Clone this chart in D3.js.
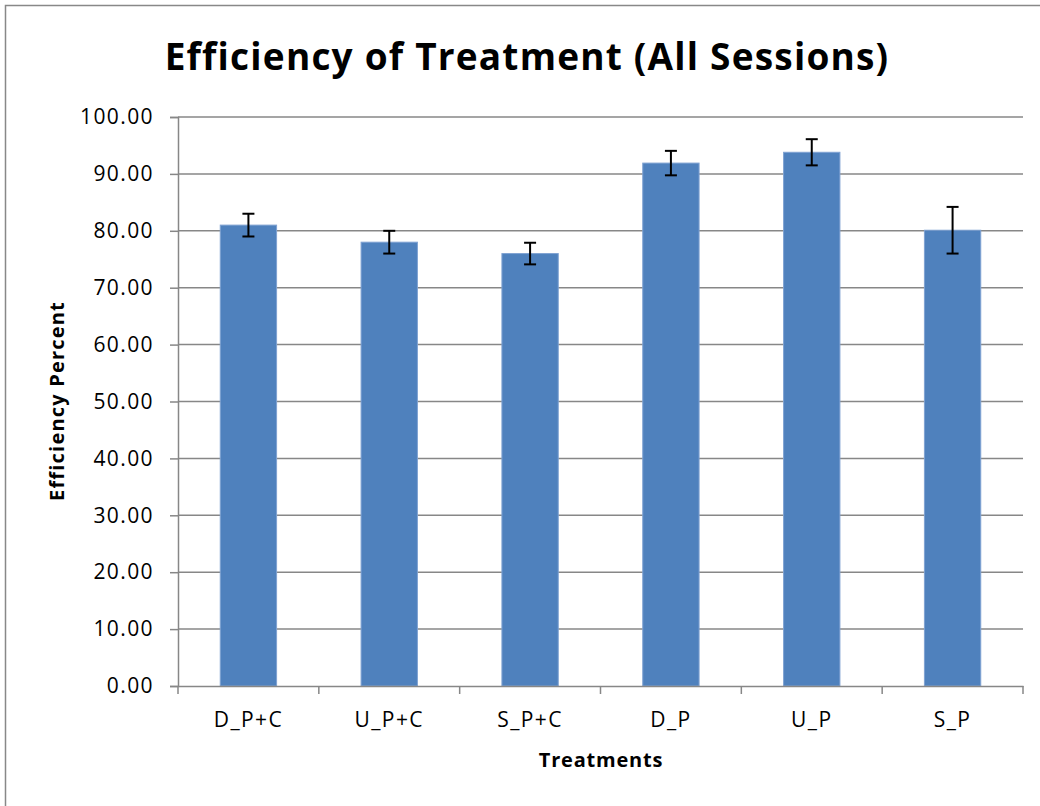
<!DOCTYPE html>
<html>
<head>
<meta charset="utf-8">
<script src="https://cdn.jsdelivr.net/npm/d3@7"></script>
<style>
  body { margin: 0; background: #fff; }
  text { font-family: "Open Sans", Lato, sans-serif; fill: #000; }
</style>
</head>
<body>
<svg id="chart"></svg>
<script>
// data
var treatments = ["D_P+C", "U_P+C", "S_P+C", "D_P", "U_P", "S_P"];
var efficiency = [81.0, 78.0, 76.0, 91.9, 93.8, 80.1];
var errors = [2.0, 2.0, 1.9, 2.15, 2.3, 4.1];
var yTicks = [0, 10, 20, 30, 40, 50, 60, 70, 80, 90, 100];

var width = 1040, height = 806;
var plot = { left: 178, right: 1023, top: 117, bottom: 686 };

var svg = d3.select("#chart")
  .attr("width", width)
  .attr("height", height);

// outer chart border
svg.append("rect")
  .attr("x", 5.5).attr("y", 5.5)
  .attr("width", width + 20).attr("height", height + 20)
  .attr("fill", "none")
  .attr("stroke", "#888")
  .attr("stroke-width", 1.5);

var x = d3.scaleBand()
  .domain(treatments)
  .range([plot.left, plot.right])
  .paddingInner(0.6)
  .paddingOuter(0.3);

var y = d3.scaleLinear()
  .domain([0, 100])
  .range([plot.bottom, plot.top]);

// gridlines
svg.append("g")
  .selectAll("line")
  .data(yTicks.slice(1))
  .enter()
  .append("line")
  .attr("x1", plot.left)
  .attr("x2", plot.right)
  .attr("y1", function (d) { return y(d); })
  .attr("y2", function (d) { return y(d); })
  .attr("stroke", "#878787")
  .attr("stroke-width", 1.5);

// y axis
var yAxis = svg.append("g")
  .attr("transform", "translate(" + plot.left + ",0)")
  .call(d3.axisLeft(y).tickValues(yTicks).tickSize(8).tickPadding(16)
    .tickFormat(d3.format(".2f")));
yAxis.selectAll("text").style("font-size", "21px").style("letter-spacing", "1.4px");

// bars
svg.append("g")
  .selectAll("rect")
  .data(efficiency)
  .enter()
  .append("rect")
  .attr("x", function (d, i) { return x(treatments[i]); })
  .attr("y", function (d) { return y(d); })
  .attr("width", x.bandwidth())
  .attr("height", function (d) { return y(0) - y(d); })
  .attr("fill", "#4F81BD")
  .attr("stroke", "#7FA2D2")
  .attr("stroke-width", 1);

// x axis with ticks at band edges
var xAxis = svg.append("g")
  .attr("transform", "translate(0," + plot.bottom + ")")
  .call(d3.axisBottom(x).tickSize(0).tickPadding(26));
xAxis.selectAll("text").style("font-size", "21px").style("letter-spacing", "1.4px");
var step = x.step();
xAxis.selectAll(".edge")
  .data(d3.range(treatments.length + 1))
  .enter()
  .append("line")
  .attr("class", "edge")
  .attr("x1", function (d) { return plot.left + d * step; })
  .attr("x2", function (d) { return plot.left + d * step; })
  .attr("y1", 0).attr("y2", 8)
  .attr("stroke", "#878787")
  .attr("stroke-width", 1.5);

[yAxis, xAxis].forEach(function (g) {
  g.select(".domain").attr("stroke", "#878787").attr("stroke-width", 1.5);
  g.selectAll(".tick line").attr("stroke", "#878787").attr("stroke-width", 1.5);
});

// error bars
var err = svg.append("g").selectAll("g")
  .data(efficiency)
  .enter()
  .append("g")
  .attr("transform", function (d, i) {
    return "translate(" + (x(treatments[i]) + x.bandwidth() / 2) + ",0)";
  });
err.append("line")
  .attr("y1", function (d, i) { return y(d + errors[i]); })
  .attr("y2", function (d, i) { return y(d - errors[i]); })
  .attr("stroke", "#000").attr("stroke-width", 2);
err.append("line")
  .attr("x1", -6).attr("x2", 6)
  .attr("y1", function (d, i) { return y(d + errors[i]); })
  .attr("y2", function (d, i) { return y(d + errors[i]); })
  .attr("stroke", "#000").attr("stroke-width", 2);
err.append("line")
  .attr("x1", -6).attr("x2", 6)
  .attr("y1", function (d, i) { return y(d - errors[i]); })
  .attr("y2", function (d, i) { return y(d - errors[i]); })
  .attr("stroke", "#000").attr("stroke-width", 2);

// titles
svg.append("text")
  .attr("x", 527).attr("y", 70)
  .attr("text-anchor", "middle")
  .style("font-size", "37px")
  .style("font-weight", "bold")
  .style("letter-spacing", "1.2px")
  .text("Efficiency of Treatment (All Sessions)");

svg.append("text")
  .attr("x", 601).attr("y", 767)
  .attr("text-anchor", "middle")
  .style("font-size", "20px")
  .style("font-weight", "bold")
  .style("letter-spacing", "0.8px")
  .text("Treatments");

svg.append("text")
  .attr("transform", "translate(64,401) rotate(-90)")
  .attr("text-anchor", "middle")
  .style("font-size", "20px")
  .style("font-weight", "bold")
  .style("letter-spacing", "1.2px")
  .text("Efficiency Percent");
</script>
</body>
</html>
